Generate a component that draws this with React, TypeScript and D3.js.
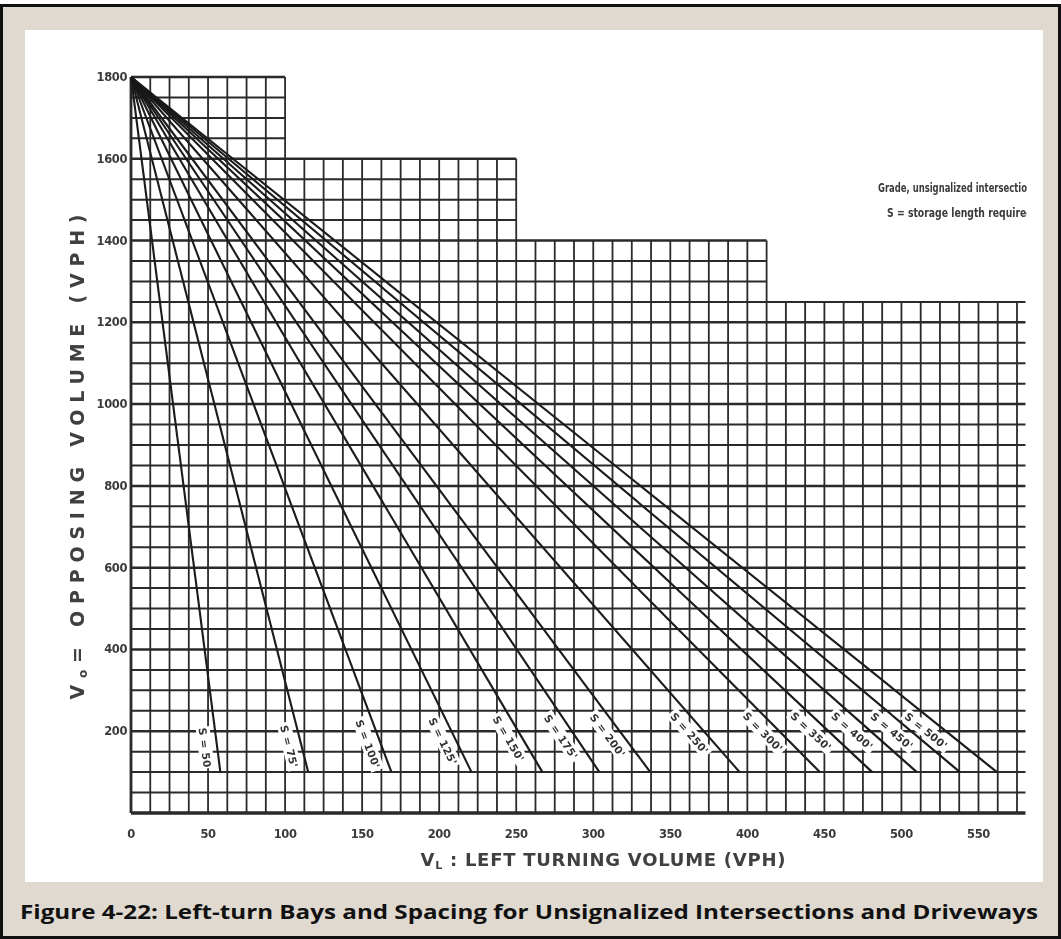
import * as d3 from "d3";

// tick labels
const xTicks = [0, 50, 100, 150, 200, 250, 300, 350, 400, 450, 500, 550];
const yTicks = [200, 400, 600, 800, 1000, 1200, 1400, 1600, 1800];

// stepped outline of the grid: block edges (VL) and block tops (Vo)
const blockEdges = [0, 100, 250, 412.5, 575];
const blockTops = [1800, 1600, 1400, 1250];

// storage length curves: all start at (0, 1800) and end at Vo = 100
const storageLabels = [
  "S = 50", "S = 75'", "S = 100'", "S = 125'", "S = 150'", "S = 175'", "S = 200'",
  "S = 250'", "S = 300'", "S = 350'", "S = 400'", "S = 450'", "S = 500'",
];
const storageEndX = [58, 115, 169, 221, 267, 304, 337, 395, 447, 481, 510, 538, 562];
const startPoint = [0, 1800];
const endVo = 100;

const legendLines = ["Grade, unsignalized intersections", "S = storage length required"];
const caption = "Figure 4-22: Left-turn Bays and Spacing for Unsignalized Intersections and Driveways";

const W = 1061;
const H = 939;
const GRID_DX = 12.5;
const GRID_DY = 50;
const ink = "#2a2a2a";
const chartFont = "'DejaVu Sans', sans-serif";

export default function App() {
  const x = d3.scaleLinear().domain([0, 575]).range([131, 1017]);
  const y = d3.scaleLinear().domain([0, 1800]).range([813, 77]);

  const blocks = blockTops.map((top, i) => ({ x0: blockEdges[i], x1: blockEdges[i + 1], top }));

  // vertical grid lines
  const vLines: { v: number; top: number }[] = [];
  for (let v = 0; v <= 575 + 1e-6; v += GRID_DX) {
    const top = d3.max(blocks.filter((b) => b.x0 <= v + 1e-6 && b.x1 >= v - 1e-6), (b) => b.top)!;
    vLines.push({ v, top });
  }
  // horizontal grid lines
  const hLines: { v: number; right: number }[] = [];
  for (let v = 0; v <= 1800; v += GRID_DY) {
    const right = d3.max(blocks.filter((b) => b.top >= v), (b) => b.x1)!;
    hLines.push({ v, right: right === 575 ? 580.5 : right });
  }

  const fan = storageEndX.map((ex, i) => {
    const x0 = x(startPoint[0]), y0 = y(startPoint[1]);
    const x1 = x(ex), y1 = y(endVo);
    const dx = x1 - x0, dy = y1 - y0;
    const len = Math.hypot(dx, dy);
    const ux = dx / len, uy = dy / len;
    const back = 25 + 150 * (1 - uy);
    const px = x1 - ux * back, py = y1 - uy * back;
    const off = 12;
    return {
      label: storageLabels[i],
      x0, y0, x1, y1,
      cx: px - uy * off,
      cy: py + ux * off,
      angle: (Math.atan2(dy, dx) * 180) / Math.PI,
    };
  });

  return (
    <svg width={W} height={H} style={{ position: "absolute", left: 0, top: 0 }}>
      <defs>
        <filter id="scan" x="0" y="0" width="1" height="1">
          <feGaussianBlur stdDeviation="0.65" />
        </filter>
        <clipPath id="legendClip">
          <rect x={800} y={150} width={227} height={90} />
        </clipPath>
      </defs>

      {/* frame */}
      <rect x={0} y={0} width={W} height={H} fill="#fff" />
      <rect x={1.5} y={5.5} width={W - 3} height={H - 7} fill="#e0d9cf" stroke="#111" strokeWidth={3} />
      <rect x={25} y={30} width={1018} height={852} fill="#fff" />

      <g filter="url(#scan)">
        {/* grid */}
        <g stroke={ink}>
          {vLines.map((d) => (
            <line key={"v" + d.v} x1={x(d.v)} x2={x(d.v)} y1={y(0)} y2={y(d.top)}
              strokeWidth={d.v === 0 ? 2.8 : 1.8} />
          ))}
          {hLines.map((d) => (
            <line key={"h" + d.v} x1={x(0)} x2={x(d.right)} y1={y(d.v)} y2={y(d.v)}
              strokeWidth={d.v === 0 ? 3.4 : d.v % 200 === 0 ? 2.5 : 2} />
          ))}
        </g>

        {/* storage length lines */}
        <g stroke="#1a1a1a" strokeWidth={2.1}>
          {fan.map((f) => (
            <line key={f.label} x1={f.x0} y1={f.y0} x2={f.x1} y2={f.y1} />
          ))}
        </g>
        <g fontFamily={chartFont} fontWeight="bold" fontSize={10.5} fill="#333">
          {fan.map((f) => (
            <g key={"l" + f.label} transform={`translate(${f.cx},${f.cy}) rotate(${f.angle})`}>
              <rect x={-f.label.length * 3.5} y={-7} width={f.label.length * 7} height={14} fill="#fff" />
              <text textAnchor="middle" dominantBaseline="central" letterSpacing={0.3}>{f.label}</text>
            </g>
          ))}
        </g>

        {/* tick labels */}
        <g fontFamily={chartFont} fontWeight="bold" fontSize={11.5} fill="#3a3a3a">
          {yTicks.map((t) => (
            <text key={"yt" + t} x={127} y={y(t)} textAnchor="end" dominantBaseline="central" letterSpacing={-0.4}>
              {t}
            </text>
          ))}
          {xTicks.map((t) => (
            <text key={"xt" + t} x={x(t)} y={834} textAnchor="middle" dominantBaseline="central" letterSpacing={-0.4}>
              {t}
            </text>
          ))}
        </g>

        {/* axis titles */}
        <text x={603} y={866} textAnchor="middle" fontFamily={chartFont} fontWeight="bold" fontSize={18}
          fill="#404040" textLength={365} lengthAdjust="spacing">
          V<tspan fontSize={11} dy={3}>L</tspan><tspan dy={-3}> : LEFT  TURNING  VOLUME  (VPH)</tspan>
        </text>
        <text transform="translate(84,457) rotate(-90)" textAnchor="middle" fontFamily={chartFont} fontWeight="bold"
          fontSize={19} fill="#404040" textLength={485} lengthAdjust="spacing">
          V<tspan fontSize={12} dy={3}>o</tspan><tspan dy={-3}>= OPPOSING  VOLUME  (VPH)</tspan>
        </text>

        {/* legend note, cut at the grid edge */}
        <g clipPath="url(#legendClip)" fontFamily="'DejaVu Sans', sans-serif" fontWeight="bold" fontSize={11.5}
          fill="#3a3a3a">
          <text x={878} y={192} textLength={160} lengthAdjust="spacingAndGlyphs">{legendLines[0]}</text>
          <text x={887} y={217} textLength={146} lengthAdjust="spacingAndGlyphs">{legendLines[1]}</text>
        </g>
      </g>

      {/* caption */}
      <text x={20} y={919} fontFamily="'Open Sans', sans-serif" fontWeight="bold" fontSize={19.5} fill="#111"
        textLength={1018} lengthAdjust="spacingAndGlyphs">
        {caption}
      </text>
    </svg>
  );
}
